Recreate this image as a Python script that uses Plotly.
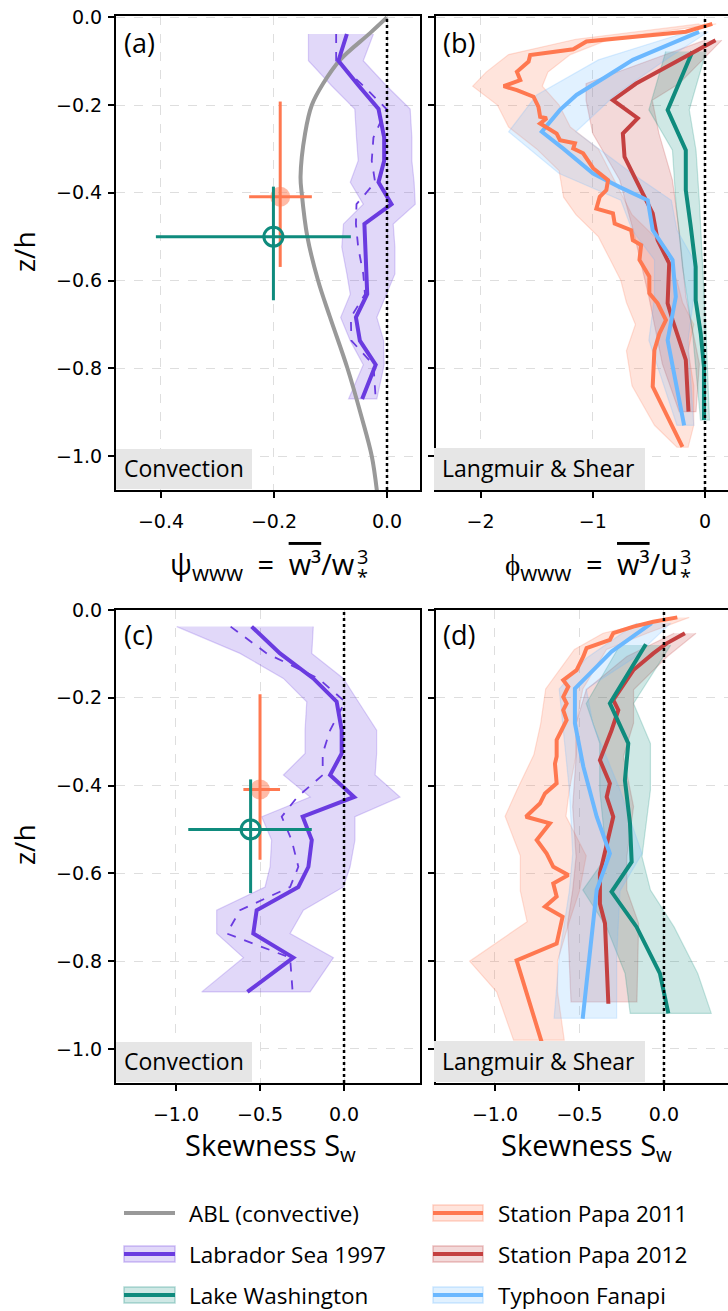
import plotly.graph_objects as go

W, H = 728, 1311
FONT = "Open Sans"
TICK_FONT_FAMILY = "DejaVu Sans"

# ---------------- colours ----------------
C_ABL = "#999999"
C_LAB = "#6a3be0"
C_LW = "#0f8b7d"
C_SP11 = "#ff7850"
C_SP12 = "#c44040"
C_FAN = "#6bb8ff"

# ---------------- data: ABL convective reference ----------------
ABL_Z = [0.0, -0.036, -0.097, -0.151, -0.2, -0.265, -0.363, -0.4, -0.5, -0.6, -0.683, -0.8, -0.911, -1.0, -1.078]
ABL_PSI = [0.0, -0.030, -0.083, -0.113, -0.133, -0.145, -0.153, -0.151, -0.141, -0.122, -0.101, -0.070, -0.045, -0.027, -0.018]

# ---------------- data: Labrador Sea 1997 ----------------
LAB_Z = [-0.038, -0.099, -0.156, -0.209, -0.274, -0.327, -0.376, -0.426, -0.471, -0.524, -0.585, -0.631, -0.684, -0.737, -0.792, -0.870]
LAB_PSI = [-0.071, -0.086, -0.050, -0.015, -0.005, -0.005, -0.015, 0.008, -0.040, -0.038, -0.036, -0.035, -0.055, -0.048, -0.020, -0.044]
LAB_PSI_ALT = [-0.090, -0.090, -0.042, -0.001, -0.024, -0.027, -0.021, -0.054, -0.055, -0.051, -0.042, -0.039, -0.064, -0.063, -0.024, -0.020]
LAB_PSI_LO = [-0.139, -0.139, -0.098, -0.057, -0.054, -0.051, -0.065, -0.042, -0.077, -0.080, -0.071, -0.065, -0.082, -0.065, -0.042, -0.068]
LAB_PSI_HI = [-0.024, -0.042, -0.001, 0.041, 0.044, 0.044, 0.048, 0.050, 0.011, 0.014, 0.014, -0.001, -0.018, -0.006, -0.005, -0.018]
LAB_SK = [-0.550, -0.381, -0.183, -0.044, -0.014, -0.014, -0.083, 0.060, -0.246, -0.192, -0.212, -0.272, -0.520, -0.540, -0.302, -0.575]
LAB_SK_ALT = [-0.675, -0.460, -0.153, 0.006, -0.083, -0.127, -0.127, -0.278, -0.371, -0.312, -0.272, -0.321, -0.619, -0.698, -0.321, -0.306]
LAB_SK_LO = [-0.996, -0.619, -0.361, -0.222, -0.232, -0.232, -0.361, -0.202, -0.490, -0.431, -0.440, -0.470, -0.758, -0.758, -0.599, -0.847]
LAB_SK_HI = [-0.183, -0.192, -0.004, 0.085, 0.194, 0.194, 0.185, 0.333, 0.065, 0.065, 0.036, -0.004, -0.242, -0.321, -0.063, -0.202]

# ---------------- data: point estimates (Station Papa, Lake Washington) ----------------
PT_Z = [-0.409, -0.500]
PT_Z_TOP = [-0.192, -0.386]
PT_Z_BOT = [-0.569, -0.645]
PT_PSI = [-0.189, -0.201]
PT_PSI_LO = [-0.244, -0.409]
PT_PSI_HI = [-0.133, -0.064]
PT_SK = [-0.500, -0.556]
PT_SK_LO = [-0.599, -0.927]
PT_SK_HI = [-0.381, -0.192]

# ---------------- data: panel (b) phi_www ----------------
SP11_ZB = [-0.015, -0.033, -0.055, -0.073, -0.086, -0.101, -0.124, -0.143, -0.157, -0.166, -0.181, -0.204, -0.227, -0.230, -0.242, -0.265, -0.280, -0.287, -0.299, -0.310, -0.344, -0.371, -0.394, -0.409, -0.436, -0.447, -0.470, -0.485, -0.508, -0.519, -0.553, -0.591, -0.629, -0.652, -0.690, -0.721, -0.759, -0.842, -0.979]
SP11_PHI = [0.065, -0.171, -1.056, -1.174, -1.558, -1.572, -1.676, -1.646, -1.794, -1.676, -1.528, -1.484, -1.469, -1.410, -1.469, -1.322, -1.292, -1.159, -1.174, -1.086, -0.997, -0.864, -0.879, -0.938, -0.968, -0.820, -0.805, -0.658, -0.643, -0.569, -0.584, -0.496, -0.496, -0.422, -0.348, -0.407, -0.451, -0.466, -0.201]
SP11_BZB = [-0.015, -0.05, -0.085, -0.125, -0.157, -0.2, -0.25, -0.3, -0.35, -0.41, -0.45, -0.5, -0.55, -0.6, -0.65, -0.7, -0.76, -0.84, -0.93, -0.98]
SP11_PHI_LO = [-0.05, -1.15, -1.75, -1.95, -2.07, -1.85, -1.75, -1.5, -1.3, -1.26, -1.15, -0.95, -0.85, -0.75, -0.7, -0.62, -0.7, -0.65, -0.45, -0.25]
SP11_PHI_HI = [0.10, -0.85, -1.2, -1.4, -1.45, -1.3, -1.2, -0.95, -0.85, -0.73, -0.65, -0.45, -0.35, -0.25, -0.2, -0.1, -0.15, -0.1, -0.1, -0.15]

FAN_ZB = [-0.033, -0.097, -0.135, -0.177, -0.211, -0.261, -0.300, -0.356, -0.387, -0.417, -0.485, -0.553, -0.637, -0.736, -0.930]
FAN_PHI = [-0.053, -0.643, -0.879, -1.145, -1.292, -1.454, -1.26, -0.997, -0.76, -0.510, -0.466, -0.289, -0.260, -0.333, -0.186]
FAN_BZB = [-0.033, -0.097, -0.177, -0.261, -0.356, -0.417, -0.485, -0.553, -0.637, -0.736, -0.93]
FAN_PHI_LO = [-0.15, -0.95, -1.5, -1.75, -1.3, -0.75, -0.65, -0.45, -0.45, -0.5, -0.25]
FAN_PHI_HI = [0.03, -0.35, -0.8, -1.15, -0.65, -0.3, -0.25, -0.1, -0.1, -0.15, -0.1]

SP12_ZB = [-0.052, -0.113, -0.151, -0.189, -0.230, -0.265, -0.318, -0.371, -0.447, -0.508, -0.561, -0.652, -0.690, -0.781, -0.899]
SP12_PHI = [0.094, -0.348, -0.614, -0.820, -0.599, -0.732, -0.717, -0.614, -0.466, -0.422, -0.319, -0.333, -0.289, -0.171, -0.147]
SP12_BZB = [-0.052, -0.151, -0.189, -0.265, -0.371, -0.485, -0.637, -0.79, -0.899]
SP12_PHI_LO = [0.0, -1.06, -1.06, -1.0, -0.76, -0.64, -0.5, -0.38, -0.23]
SP12_PHI_HI = [0.15, -0.23, -0.47, -0.41, -0.29, -0.23, -0.17, -0.05, -0.08]

LW_ZB = [-0.078, -0.211, -0.303, -0.394, -0.477, -0.569, -0.645, -0.721, -0.797, -0.918]
LW_PHI = [-0.112, -0.333, -0.171, -0.171, -0.127, -0.083, -0.083, -0.038, -0.009, -0.009]
LW_BZB = [-0.078, -0.211, -0.303, -0.42, -0.569, -0.721, -0.918]
LW_PHI_LO = [-0.35, -0.5, -0.29, -0.26, -0.2, -0.11, -0.04]
LW_PHI_HI = [0.01, -0.14, -0.08, -0.05, -0.02, 0.01, 0.04]

# ---------------- data: panel (d) skewness ----------------
SP11_ZD = [-0.017, -0.027, -0.038, -0.053, -0.068, -0.076, -0.087, -0.106, -0.137, -0.160, -0.175, -0.198, -0.213, -0.228, -0.251, -0.274, -0.296, -0.334, -0.350, -0.395, -0.418, -0.441, -0.471, -0.486, -0.524, -0.555, -0.585, -0.604, -0.623, -0.653, -0.676, -0.699, -0.760, -0.798, -0.984]
SP11_SK = [0.079, -0.063, -0.181, -0.300, -0.320, -0.379, -0.458, -0.477, -0.517, -0.596, -0.566, -0.596, -0.576, -0.596, -0.576, -0.606, -0.635, -0.635, -0.645, -0.635, -0.704, -0.734, -0.817, -0.675, -0.753, -0.694, -0.655, -0.566, -0.655, -0.635, -0.704, -0.600, -0.635, -0.872, -0.724]
SP11_BZD = [-0.017, -0.053, -0.09, -0.18, -0.26, -0.33, -0.41, -0.47, -0.56, -0.64, -0.71, -0.80, -0.87, -0.98]
SP11_SK_LO = [0.03, -0.36, -0.53, -0.70, -0.73, -0.77, -0.87, -0.94, -0.85, -0.85, -0.81, -1.15, -0.99, -0.89]
SP11_SK_HI = [0.15, -0.10, -0.34, -0.48, -0.52, -0.52, -0.56, -0.58, -0.46, -0.50, -0.56, -0.63, -0.63, -0.59]

FAN_ZD = [-0.030, -0.095, -0.129, -0.179, -0.258, -0.357, -0.471, -0.555, -0.638, -0.714, -0.828, -0.931]
FAN_SK = [-0.073, -0.310, -0.398, -0.527, -0.527, -0.477, -0.398, -0.320, -0.398, -0.418, -0.448, -0.481]
FAN_BZD = [-0.03, -0.11, -0.18, -0.26, -0.41, -0.555, -0.64, -0.79, -0.93]
FAN_SK_LO = [-0.16, -0.46, -0.62, -0.60, -0.56, -0.54, -0.56, -0.62, -0.65]
FAN_SK_HI = [0.04, -0.18, -0.46, -0.42, -0.26, -0.13, -0.26, -0.28, -0.28]

SP12_ZD = [-0.053, -0.076, -0.099, -0.137, -0.205, -0.228, -0.274, -0.342, -0.395, -0.426, -0.471, -0.532, -0.600, -0.669, -0.714, -0.897]
SP12_SK = [0.124, 0.016, -0.063, -0.181, -0.300, -0.270, -0.310, -0.379, -0.320, -0.339, -0.300, -0.339, -0.379, -0.379, -0.349, -0.329]
SP12_BZD = [-0.053, -0.106, -0.182, -0.258, -0.334, -0.448, -0.562, -0.638, -0.714, -0.893]
SP12_SK_LO = [0.06, -0.22, -0.46, -0.52, -0.52, -0.54, -0.52, -0.54, -0.57, -0.55]
SP12_SK_HI = [0.19, 0.02, -0.18, -0.18, -0.24, -0.18, -0.22, -0.22, -0.15, -0.16]

LW_ZD = [-0.078, -0.152, -0.213, -0.304, -0.388, -0.486, -0.574, -0.642, -0.722, -0.828, -0.919]
LW_SK = [-0.107, -0.221, -0.320, -0.211, -0.231, -0.201, -0.191, -0.310, -0.162, -0.024, 0.026]
LW_BZD = [-0.08, -0.213, -0.304, -0.41, -0.562, -0.638, -0.722, -0.828, -0.919]
LW_SK_LO = [-0.26, -0.46, -0.38, -0.38, -0.34, -0.48, -0.34, -0.23, -0.20]
LW_SK_HI = [0.04, -0.18, -0.08, -0.08, -0.13, -0.08, 0.06, 0.20, 0.28]

# ---------------- tick labels ----------------
Z_TICKS = [0.0, -0.2, -0.4, -0.6, -0.8, -1.0]
Z_TICKTEXT = ["0.0", "−0.2", "−0.4", "−0.6", "−0.8", "−1.0"]
A_TICKS, A_TEXT = [-0.4, -0.2, 0.0], ["−0.4", "−0.2", "0.0"]
B_TICKS, B_TEXT = [-2, -1, 0], ["−2", "−1", "0"]
S_TICKS, S_TEXT = [-1.0, -0.5, 0.0], ["−1.0", "−0.5", "0.0"]

LEGEND_COL1 = [("ABL (convective)", C_ABL, False), ("Labrador Sea 1997", C_LAB, True), ("Lake Washington", C_LW, True)]
LEGEND_COL2 = [("Station Papa 2011", C_SP11, True), ("Station Papa 2012", C_SP12, True), ("Typhoon Fanapi", C_FAN, True)]


def rgba(h, a):
    h = h.lstrip("#")
    r, g, b = int(h[0:2], 16), int(h[2:4], 16), int(h[4:6], 16)
    return f"rgba({r},{g},{b},{a})"


def px(x):
    return x / W


def py(y):
    return 1 - y / H


fig = go.Figure()


def band(z, lo, hi, color, ax):
    fig.add_trace(go.Scatter(
        x=list(lo) + list(hi)[::-1], y=list(z) + list(z)[::-1],
        fill="toself", fillcolor=rgba(color, 0.2),
        line=dict(color=rgba(color, 0.22), width=1.2),
        mode="lines", hoverinfo="skip", showlegend=False,
        xaxis="x" + ax, yaxis="y" + ax))


def line(x, z, color, ax, width=4, dash="solid", shape="linear"):
    fig.add_trace(go.Scatter(
        x=x, y=z, mode="lines", line=dict(color=color, width=width, dash=dash, shape=shape),
        showlegend=False, xaxis="x" + ax, yaxis="y" + ax))


def points(xc, xlo, xhi, ax):
    cols = [C_SP11, C_LW]
    for i in range(2):
        err_x = dict(type="data", symmetric=False, array=[xhi[i] - xc[i]], arrayminus=[xc[i] - xlo[i]],
                     color=cols[i], thickness=3, width=0)
        err_y = dict(type="data", symmetric=False, array=[PT_Z_TOP[i] - PT_Z[i]], arrayminus=[PT_Z[i] - PT_Z_BOT[i]],
                     color=cols[i], thickness=3, width=0)
        if i == 0:
            mk = dict(symbol="circle", size=20, color=rgba(C_SP11, 0.5), line=dict(width=0))
        else:
            mk = dict(symbol="circle-open", size=19, color=C_LW, line=dict(width=3, color=C_LW))
        fig.add_trace(go.Scatter(x=[xc[i]], y=[PT_Z[i]], mode="markers", marker=mk,
                                 error_x=err_x, error_y=err_y, showlegend=False,
                                 xaxis="x" + ax, yaxis="y" + ax))


# ---- panel (a)
band(LAB_Z, LAB_PSI_LO, LAB_PSI_HI, C_LAB, "")
line(ABL_PSI, ABL_Z, C_ABL, "", width=4, shape="spline")
line(LAB_PSI_ALT, LAB_Z, C_LAB, "", width=1.8, dash="dash")
line(LAB_PSI, LAB_Z, C_LAB, "", width=4)
points(PT_PSI, PT_PSI_LO, PT_PSI_HI, "")

# ---- panel (b)
band(SP11_BZB, SP11_PHI_LO, SP11_PHI_HI, C_SP11, "2")
band(SP12_BZB, SP12_PHI_LO, SP12_PHI_HI, C_SP12, "2")
band(LW_BZB, LW_PHI_LO, LW_PHI_HI, C_LW, "2")
band(FAN_BZB, FAN_PHI_LO, FAN_PHI_HI, C_FAN, "2")
line(LW_PHI, LW_ZB, C_LW, "2")
line(SP12_PHI, SP12_ZB, C_SP12, "2")
line(FAN_PHI, FAN_ZB, C_FAN, "2")
line(SP11_PHI, SP11_ZB, C_SP11, "2")

# ---- panel (c)
band(LAB_Z, LAB_SK_LO, LAB_SK_HI, C_LAB, "3")
line(LAB_SK_ALT, LAB_Z, C_LAB, "3", width=1.8, dash="dash")
line(LAB_SK, LAB_Z, C_LAB, "3", width=4)
points(PT_SK, PT_SK_LO, PT_SK_HI, "3")

# ---- panel (d)
band(SP11_BZD, SP11_SK_LO, SP11_SK_HI, C_SP11, "4")
band(SP12_BZD, SP12_SK_LO, SP12_SK_HI, C_SP12, "4")
band(LW_BZD, LW_SK_LO, LW_SK_HI, C_LW, "4")
band(FAN_BZD, FAN_SK_LO, FAN_SK_HI, C_FAN, "4")
line(SP12_SK, SP12_ZD, C_SP12, "4")
line(LW_SK, LW_ZD, C_LW, "4")
line(FAN_SK, FAN_ZD, C_FAN, "4")
line(SP11_SK, SP11_ZD, C_SP11, "4")

# ---------------- axes ----------------
TICKFONT = dict(family=TICK_FONT_FAMILY, size=19, color="black")


def xax(domain, rng, tv, tt, anchor):
    return dict(domain=domain, range=rng, tickvals=tv, ticktext=tt, anchor=anchor,
                showline=True, linecolor="black", linewidth=2, mirror=True,
                ticks="outside", ticklen=6, tickwidth=1.5, tickcolor="black",
                showgrid=True, gridcolor="#dedede", griddash="dash", gridwidth=1,
                zeroline=False, tickfont=TICKFONT, ticklabelstandoff=7,
                automargin=False, fixedrange=True)


def yax(domain, rng, labels, mirror, anchor):
    return dict(domain=domain, range=rng, tickvals=Z_TICKS, ticktext=Z_TICKTEXT, anchor=anchor,
                showticklabels=labels,
                showline=True, linecolor="black", linewidth=2, mirror=mirror,
                ticks="outside", ticklen=6, tickwidth=1.5, tickcolor="black",
                showgrid=True, gridcolor="#dedede", griddash="dash", gridwidth=1,
                zeroline=False, tickfont=TICKFONT, ticklabelstandoff=2,
                automargin=False, fixedrange=True)


XL = [px(116), px(420)]
XR = [px(436), 1.0]
YT = [py(490), py(16)]
YB = [py(1083), py(609.5)]

fig.update_layout(
    width=W, height=H, margin=dict(l=0, r=0, t=0, b=0),
    paper_bgcolor="white", plot_bgcolor="white",
    font=dict(family=FONT, color="black"),
    showlegend=False,
    xaxis=xax(XL, [-0.4796, 0.0584], A_TICKS, A_TEXT, "y"),
    yaxis=yax(YT, [-1.0775, 0.003], True, True, "x"),
    xaxis2=xax(XR, [-2.397, 0.205], B_TICKS, B_TEXT, "y2"),
    yaxis2=yax(YT, [-1.0775, 0.003], False, False, "x2"),
    xaxis3=xax(XL, [-1.357, 0.452], S_TICKS, S_TEXT, "y3"),
    yaxis3=yax(YB, [-1.0775, 0.001], True, True, "x3"),
    xaxis4=xax(XR, [-1.349, 0.379], S_TICKS, S_TEXT, "y4"),
    yaxis4=yax(YB, [-1.0775, 0.001], False, False, "x4"),
)

shapes = []
anns = []

# dotted zero lines
for ax in ["", "2", "3", "4"]:
    shapes.append(dict(type="line", xref="x" + ax, yref=("y" + ax) + " domain", x0=0, x1=0, y0=0, y1=1,
                       line=dict(color="black", width=2.5, dash="dot"), layer="above"))

# regime labels with grey boxes
for (x0, x1, y0, y1, txt) in [(116, 252, 449, 489, "Convection"), (434, 645, 448, 490, "Langmuir &amp; Shear"),
                               (116, 252, 1042, 1082, "Convection"), (434, 645, 1041, 1082, "Langmuir &amp; Shear")]:
    shapes.append(dict(type="rect", xref="paper", yref="paper", x0=px(x0), x1=px(x1), y0=py(y1), y1=py(y0),
                       fillcolor="#e6e6e6", line=dict(width=0), layer="above"))
    anns.append(dict(xref="paper", yref="paper", x=px(x0 + 6), y=py((y0 + y1) / 2 - 1), xanchor="left",
                     yanchor="middle", text=txt, showarrow=False, font=dict(size=23, color="black")))

# panel letters
for (x, y, t) in [(122, 42, "(a)"), (441, 42, "(b)"), (122, 634, "(c)"), (441, 634, "(d)")]:
    anns.append(dict(xref="paper", yref="paper", x=px(x), y=py(y), xanchor="left", yanchor="middle",
                     text=t, showarrow=False, font=dict(size=27, color="black")))

# y titles
for y in [252, 845]:
    anns.append(dict(xref="paper", yref="paper", x=px(24), y=py(y), xanchor="center", yanchor="middle",
                     text="z/h", textangle=-90, showarrow=False, font=dict(size=28, color="black")))

# x titles (top row): main part right-anchored, then stacked super/subscript
OVL = "<span style='text-decoration:overline'>w³</span>"
TITLE_SIZE = 29
SUBW = "<sub><span style='font-size:22px'>www</span></sub>"
for (xr, sym, main) in [(356, "w", "ψ"), (679, "u", "ϕ")]:
    anns.append(dict(xref="paper", yref="paper", x=px(xr), y=py(566), xanchor="right", yanchor="middle",
                     text=main + SUBW + "\u2002=\u2002" + OVL + "/" + sym, showarrow=False, borderpad=0,
                     font=dict(size=TITLE_SIZE, color="black")))
    anns.append(dict(xref="paper", yref="paper", x=px(xr), y=py(542), xanchor="left", yanchor="top",
                     align="left", borderpad=0,
                     text="<span style='font-size:20px'>3</span><br><span style='font-size:20px'>*</span>",
                     showarrow=False, font=dict(size=15, color="black")))
for x in [270, 586]:
    anns.append(dict(xref="paper", yref="paper", x=px(x), y=py(1146), xanchor="center", yanchor="middle",
                     text="Skewness S<sub>w</sub>", showarrow=False, font=dict(size=TITLE_SIZE, color="black")))

# legend (manual)
ROWS = [1213, 1254, 1295]
for col, (sx0, sx1, tx) in zip([LEGEND_COL1, LEGEND_COL2], [(124, 175, 187), (433, 483, 496)]):
    for (name, c, has_band), ry in zip(col, ROWS):
        if has_band:
            shapes.append(dict(type="rect", xref="paper", yref="paper", x0=px(sx0), x1=px(sx1),
                               y0=py(ry + 8), y1=py(ry - 8), fillcolor=rgba(c, 0.2),
                               line=dict(color=rgba(c, 0.3), width=1.5)))
        shapes.append(dict(type="line", xref="paper", yref="paper", x0=px(sx0), x1=px(sx1),
                           y0=py(ry), y1=py(ry), line=dict(color=c, width=4)))
        anns.append(dict(xref="paper", yref="paper", x=px(tx), y=py(ry), xanchor="left", yanchor="middle",
                         text=name, showarrow=False, font=dict(size=22.5, color="black")))

fig.update_layout(shapes=shapes, annotations=anns)
fig.write_html("out.html")
